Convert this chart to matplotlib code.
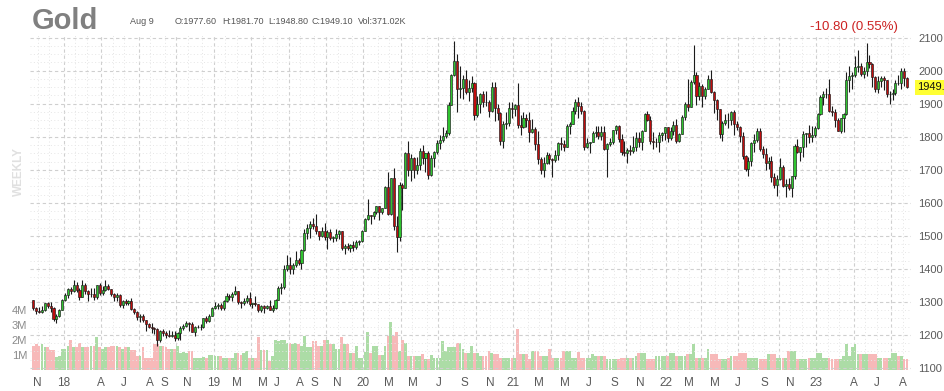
import matplotlib
matplotlib.use("Agg")
import matplotlib.pyplot as plt
import pandas as pd
import numpy as np

plt.rcParams['font.family'] = ['Liberation Sans', 'DejaVu Sans']

# ---------------- data (weekly) ----------------
first_week_end = '2017-10-20'

open_2017 = [1305, 1281, 1272, 1270, 1275, 1296, 1288, 1282, 1248, 1257, 1276]
high_2017 = [1307, 1285, 1285, 1289, 1297, 1299, 1300, 1284, 1262, 1278, 1309]
low_2017 = [1276, 1263, 1266, 1266, 1272, 1281, 1271, 1243, 1237, 1255, 1275]
close_2017 = [1281, 1272, 1270, 1275, 1296, 1288, 1282, 1248, 1257, 1276, 1305]
vol_2017 = [1.6, 1.7, 1.6, 1.7, 1.5, 1.5, 1.3, 1.3, 0.85, 0.9, 1.4]

open_2018 = [1305, 1322, 1338, 1333, 1352, 1337, 1316, 1352, 1332, 1323, 1323, 1314, 1350, 1327, 1336, 1349, 1338, 1323, 1316, 1320, 1292, 1304, 1297, 1302, 1279, 1271, 1254, 1256, 1244, 1232, 1225, 1220, 1219, 1184, 1213, 1206, 1201, 1198, 1201, 1192, 1207, 1222, 1228, 1236, 1233, 1210, 1223, 1223, 1223, 1252, 1241, 1258]
high_2018 = [1326, 1341, 1345, 1366, 1361, 1341, 1365, 1357, 1337, 1341, 1341, 1352, 1357, 1347, 1366, 1354, 1340, 1328, 1327, 1325, 1307, 1310, 1307, 1313, 1282, 1272, 1264, 1262, 1246, 1236, 1237, 1223, 1220, 1215, 1217, 1211, 1215, 1213, 1213, 1209, 1226, 1233, 1243, 1240, 1239, 1226, 1230, 1232, 1252, 1256, 1262, 1285]
low_2018 = [1302, 1312, 1323, 1330, 1331, 1306, 1316, 1324, 1303, 1314, 1307, 1310, 1322, 1322, 1333, 1335, 1318, 1302, 1304, 1285, 1282, 1292, 1291, 1276, 1262, 1246, 1238, 1238, 1211, 1222, 1207, 1203, 1167, 1178, 1197, 1191, 1193, 1194, 1182, 1185, 1185, 1216, 1225, 1211, 1209, 1196, 1220, 1214, 1221, 1237, 1240, 1257]
close_2018 = [1322, 1338, 1333, 1352, 1337, 1316, 1352, 1332, 1323, 1323, 1314, 1350, 1327, 1336, 1349, 1338, 1323, 1316, 1320, 1292, 1304, 1297, 1302, 1279, 1271, 1254, 1256, 1244, 1232, 1225, 1220, 1219, 1184, 1213, 1206, 1201, 1198, 1201, 1192, 1207, 1222, 1228, 1236, 1233, 1210, 1223, 1223, 1223, 1252, 1241, 1258, 1283]
vol_2018 = [1.4, 1.6, 2.0, 1.5, 1.5, 1.8, 1.5, 1.5, 1.5, 1.6, 1.6, 2.2, 1.5, 1.4, 1.5, 1.5, 1.6, 1.6, 1.6, 1.5, 1.4, 1.5, 1.5, 1.3, 1.3, 0.9, 0.9, 1.5, 0.8, 0.8, 0.8, 1.7, 1.7, 1.6, 1.6, 1.5, 1.4, 1.4, 1.4, 1.6, 1.15, 1.2, 1.1, 1.25, 1.25, 0.8, 0.8, 0.8, 0.85, 0.8, 1.0, 1.0]

open_2019 = [1283, 1287, 1292, 1282, 1303, 1319, 1316, 1323, 1332, 1299, 1298, 1303, 1313, 1295, 1295, 1294, 1276, 1288, 1281, 1287, 1276, 1283, 1306, 1341, 1344, 1400, 1413, 1400, 1413, 1426, 1419, 1457, 1509, 1524, 1537, 1529, 1515, 1499, 1516, 1497, 1512, 1494, 1494, 1505, 1515, 1464, 1468, 1463, 1473, 1465, 1481, 1483]
high_2019 = [1299, 1298, 1298, 1305, 1326, 1323, 1330, 1349, 1334, 1303, 1312, 1322, 1329, 1298, 1319, 1295, 1292, 1292, 1291, 1305, 1291, 1310, 1348, 1358, 1412, 1442, 1437, 1419, 1453, 1433, 1460, 1520, 1535, 1546, 1555, 1566, 1516, 1527, 1540, 1518, 1521, 1501, 1520, 1519, 1516, 1476, 1477, 1475, 1485, 1486, 1488, 1519]
low_2019 = [1280, 1279, 1276, 1277, 1300, 1305, 1302, 1322, 1294, 1281, 1290, 1298, 1287, 1283, 1288, 1271, 1270, 1267, 1279, 1276, 1270, 1280, 1306, 1323, 1340, 1395, 1384, 1386, 1405, 1413, 1400, 1455, 1491, 1494, 1520, 1507, 1486, 1496, 1487, 1460, 1488, 1481, 1484, 1490, 1456, 1446, 1457, 1452, 1455, 1461, 1472, 1481]
close_2019 = [1287, 1292, 1282, 1303, 1319, 1316, 1323, 1332, 1299, 1298, 1303, 1313, 1295, 1295, 1294, 1276, 1288, 1281, 1287, 1276, 1283, 1306, 1341, 1344, 1400, 1413, 1400, 1413, 1426, 1419, 1457, 1509, 1524, 1537, 1529, 1515, 1499, 1516, 1497, 1512, 1494, 1494, 1505, 1515, 1464, 1468, 1463, 1473, 1465, 1481, 1483, 1515]
vol_2019 = [0.9, 0.9, 0.9, 0.8, 0.8, 0.8, 0.8, 1.1, 1.1, 1.0, 1.1, 1.25, 0.8, 0.8, 0.8, 2.2, 1.35, 1.3, 1.35, 0.6, 0.9, 2.0, 1.9, 2.0, 2.0, 1.8, 1.8, 1.7, 1.8, 1.7, 1.6, 2.25, 1.5, 1.5, 1.9, 1.9, 1.6, 1.6, 2.0, 2.0, 1.7, 1.7, 1.4, 1.4, 2.2, 1.7, 1.7, 1.1, 1.1, 1.6, 0.8, 0.8]

open_2020 = [1515, 1552, 1562, 1560, 1572, 1589, 1573, 1584, 1649, 1566, 1674, 1530, 1498, 1654, 1645, 1752, 1698, 1735, 1700, 1713, 1756, 1735, 1751, 1683, 1737, 1753, 1780, 1790, 1801, 1810, 1897, 1986, 2028, 1944, 1947, 1975, 1934, 1948, 1962, 1866, 1900, 1930, 1906, 1905, 1879, 1951, 1887, 1871, 1788, 1840, 1843, 1888, 1883]
high_2020 = [1553, 1611, 1564, 1576, 1591, 1591, 1585, 1651, 1692, 1676, 1704, 1560, 1664, 1660, 1753, 1788, 1747, 1738, 1738, 1765, 1775, 1751, 1756, 1744, 1756, 1789, 1804, 1829, 1820, 1904, 1990, 2089, 2049, 2015, 1986, 2001, 1973, 1985, 1966, 1923, 1933, 1938, 1939, 1912, 1965, 1966, 1900, 1876, 1848, 1875, 1904, 1906, 1900]
low_2020 = [1514, 1549, 1536, 1550, 1565, 1549, 1566, 1583, 1563, 1563, 1517, 1451, 1484, 1577, 1645, 1680, 1667, 1676, 1688, 1700, 1718, 1693, 1671, 1680, 1709, 1747, 1762, 1784, 1795, 1806, 1897, 1983, 1874, 1916, 1913, 1928, 1907, 1936, 1851, 1861, 1873, 1891, 1893, 1860, 1876, 1849, 1851, 1775, 1765, 1823, 1833, 1858, 1862]
close_2020 = [1552, 1562, 1560, 1572, 1589, 1573, 1584, 1649, 1566, 1674, 1530, 1498, 1654, 1645, 1752, 1698, 1735, 1700, 1713, 1756, 1735, 1751, 1683, 1737, 1753, 1780, 1790, 1801, 1810, 1897, 1986, 2028, 1944, 1947, 1975, 1934, 1948, 1962, 1866, 1900, 1930, 1906, 1905, 1879, 1951, 1887, 1871, 1788, 1840, 1843, 1888, 1883, 1895]
vol_2020 = [1.2, 2.5, 1.15, 1.6, 1.6, 1.0, 1.0, 1.6, 2.25, 3.2, 2.25, 2.5, 1.25, 2.0, 1.8, 0.95, 0.95, 0.95, 0.9, 0.9, 1.05, 0.7, 0.7, 1.0, 0.8, 0.8, 0.8, 1.9, 1.25, 1.5, 1.5, 1.5, 1.8, 1.8, 1.4, 1.15, 1.15, 1.6, 1.15, 1.15, 0.95, 0.95, 0.95, 1.25, 1.1, 1.05, 1.05, 0.8, 0.8, 0.8, 0.8, 0.8, 0.8]

open_2021 = [1895, 1835, 1829, 1856, 1850, 1814, 1823, 1777, 1734, 1698, 1720, 1745, 1733, 1729, 1744, 1780, 1777, 1768, 1832, 1838, 1877, 1905, 1892, 1878, 1769, 1781, 1784, 1811, 1815, 1802, 1815, 1763, 1779, 1784, 1819, 1834, 1792, 1754, 1752, 1760, 1758, 1768, 1796, 1784, 1818, 1868, 1852, 1788, 1784, 1784, 1804, 1811]
high_2021 = [1962, 1866, 1875, 1870, 1875, 1855, 1829, 1816, 1739, 1740, 1755, 1750, 1736, 1759, 1784, 1798, 1790, 1838, 1846, 1891, 1913, 1920, 1904, 1880, 1795, 1785, 1818, 1834, 1834, 1833, 1834, 1780, 1796, 1821, 1836, 1836, 1809, 1788, 1765, 1774, 1801, 1815, 1814, 1819, 1871, 1877, 1862, 1815, 1795, 1815, 1814, 1831]
low_2021 = [1828, 1805, 1827, 1831, 1785, 1812, 1760, 1717, 1687, 1677, 1718, 1719, 1678, 1723, 1729, 1760, 1756, 1768, 1808, 1838, 1870, 1856, 1869, 1761, 1767, 1750, 1783, 1799, 1794, 1791, 1759, 1678, 1772, 1778, 1807, 1783, 1745, 1741, 1721, 1746, 1750, 1758, 1770, 1760, 1816, 1847, 1778, 1762, 1769, 1753, 1786, 1790]
close_2021 = [1835, 1829, 1856, 1850, 1814, 1823, 1777, 1734, 1698, 1720, 1745, 1733, 1729, 1744, 1780, 1777, 1768, 1832, 1838, 1877, 1905, 1892, 1878, 1769, 1781, 1784, 1811, 1815, 1802, 1815, 1763, 1779, 1784, 1819, 1834, 1792, 1754, 1752, 1760, 1758, 1768, 1796, 1784, 1818, 1868, 1852, 1788, 1784, 1784, 1804, 1811, 1829]
vol_2021 = [2.75, 1.05, 1.05, 1.05, 0.7, 1.25, 1.25, 1.25, 0.9, 0.9, 0.9, 1.4, 0.8, 0.8, 0.8, 0.8, 1.25, 1.25, 1.25, 0.8, 0.8, 1.2, 0.8, 0.8, 0.8, 0.8, 1.05, 0.9, 0.9, 0.9, 0.9, 0.7, 0.7, 0.7, 0.75, 0.75, 0.8, 0.8, 0.8, 0.8, 0.8, 0.9, 1.15, 1.15, 1.15, 0.7, 0.7, 0.7, 0.9, 0.9, 0.9, 0.9]

open_2022 = [1829, 1797, 1817, 1835, 1786, 1808, 1860, 1900, 1890, 1967, 1986, 1922, 1955, 1924, 1946, 1975, 1934, 1911, 1883, 1808, 1842, 1851, 1850, 1875, 1840, 1830, 1801, 1742, 1703, 1728, 1781, 1791, 1816, 1762, 1749, 1722, 1728, 1678, 1655, 1672, 1709, 1650, 1656, 1645, 1681, 1771, 1754, 1768, 1809, 1810, 1800, 1804]
high_2022 = [1830, 1830, 1848, 1855, 1812, 1866, 1905, 1976, 1972, 2079, 1995, 1966, 1960, 1950, 1988, 2003, 1937, 1915, 1885, 1849, 1870, 1873, 1878, 1880, 1847, 1833, 1813, 1745, 1738, 1784, 1808, 1826, 1825, 1772, 1766, 1738, 1741, 1691, 1684, 1736, 1714, 1672, 1675, 1682, 1779, 1793, 1769, 1818, 1812, 1836, 1834, 1833]
low_2022 = [1783, 1791, 1805, 1780, 1785, 1807, 1852, 1878, 1889, 1960, 1895, 1910, 1890, 1915, 1944, 1932, 1872, 1851, 1797, 1787, 1836, 1828, 1836, 1805, 1820, 1784, 1733, 1695, 1681, 1711, 1754, 1783, 1757, 1736, 1700, 1703, 1663, 1645, 1622, 1669, 1649, 1618, 1640, 1617, 1673, 1750, 1726, 1740, 1769, 1781, 1784, 1800]
close_2022 = [1797, 1817, 1835, 1786, 1808, 1860, 1900, 1890, 1967, 1986, 1922, 1955, 1924, 1946, 1975, 1934, 1911, 1883, 1808, 1842, 1851, 1850, 1875, 1840, 1830, 1801, 1742, 1703, 1728, 1781, 1791, 1816, 1762, 1749, 1722, 1728, 1678, 1655, 1672, 1709, 1650, 1656, 1645, 1681, 1771, 1754, 1768, 1809, 1810, 1800, 1804, 1826]
vol_2022 = [0.9, 1.1, 1.1, 0.9, 0.9, 0.9, 0.9, 1.05, 1.05, 1.7, 0.8, 0.8, 0.8, 0.8, 1.4, 1.05, 1.05, 1.05, 0.7, 0.7, 0.7, 0.8, 0.9, 0.9, 0.9, 1.1, 1.1, 1.1, 0.8, 0.8, 0.8, 0.8, 0.7, 0.7, 0.7, 1.05, 1.05, 1.05, 0.8, 0.8, 0.8, 0.8, 1.25, 1.25, 1.25, 0.7, 0.7, 0.7, 0.7, 0.8, 0.8, 0.8]

open_2023 = [1826, 1869, 1921, 1928, 1929, 1877, 1874, 1850, 1817, 1856, 1868, 1973, 1983, 1986, 2011, 2015, 1990, 2000, 2025, 2019, 1981, 1944, 1969, 1977, 1971, 1929, 1929, 1932, 1964, 1962, 2000, 1977.6]
high_2023 = [1872, 1925, 1937, 1949, 1975, 1894, 1885, 1856, 1857, 1871, 1997, 2014, 1995, 2045, 2064, 2023, 2012, 2085, 2048, 2022, 1985, 1985, 1984, 1985, 1972, 1938, 1944, 1973, 1987, 2009, 2007, 1981.7]
low_2023 = [1824, 1866, 1897, 1917, 1876, 1863, 1830, 1816, 1810, 1813, 1866, 1936, 1945, 1980, 1995, 1983, 1978, 1983, 2008, 1952, 1936, 1932, 1950, 1941, 1920, 1900, 1912, 1925, 1956, 1946, 1954, 1948.8]
close_2023 = [1869, 1921, 1928, 1929, 1877, 1874, 1850, 1817, 1856, 1868, 1973, 1983, 1986, 2011, 2015, 1990, 2000, 2025, 2019, 1981, 1944, 1969, 1977, 1971, 1929, 1929, 1932, 1964, 1962, 2000, 1978, 1949.1]
vol_2023 = [1.15, 1.15, 0.8, 0.8, 0.8, 0.7, 0.7, 0.7, 0.7, 0.9, 1.7, 0.9, 1.5, 1.7, 1.05, 1.05, 1.05, 1.05, 1.05, 1.05, 1.05, 0.8, 0.8, 0.8, 0.8, 0.8, 1.1, 1.1, 0.9, 0.9, 0.7, 0.7]

price_ticks = [1100, 1200, 1300, 1400, 1500, 1600, 1700, 1800, 1900, 2000, 2100]
volume_ticks = [1, 2, 3, 4]
volume_tick_labels = ['1M', '2M', '3M', '4M']
# (year, month, label)
month_labels = [(2017, 11, 'N'), (2018, 1, '18'), (2018, 4, 'A'), (2018, 6, 'J'), (2018, 8, 'A'),
                (2018, 9, 'S'), (2018, 11, 'N'), (2019, 1, '19'), (2019, 3, 'M'), (2019, 5, 'M'),
                (2019, 6, 'J'), (2019, 8, 'A'), (2019, 9, 'S'), (2019, 11, 'N'), (2020, 1, '20'),
                (2020, 3, 'M'), (2020, 5, 'M'), (2020, 7, 'J'), (2020, 9, 'S'), (2020, 11, 'N'),
                (2021, 1, '21'), (2021, 3, 'M'), (2021, 5, 'M'), (2021, 7, 'J'), (2021, 9, 'S'),
                (2021, 11, 'N'), (2022, 1, '22'), (2022, 3, 'M'), (2022, 5, 'M'), (2022, 7, 'J'),
                (2022, 9, 'S'), (2022, 11, 'N'), (2023, 1, '23'), (2023, 4, 'A'), (2023, 6, 'J'),
                (2023, 8, 'A')]

title = 'Gold'
bar_date = 'Aug 9'
ohlc_texts = ['O:1977.60', 'H:1981.70', 'L:1948.80', 'C:1949.10']
vol_text = 'Vol:371.02K'
change_text = '-10.80 (0.55%)'
last_price_text = '1949.10'

# ---------------- assemble ----------------
opens = np.array(open_2017 + open_2018 + open_2019 + open_2020 + open_2021 + open_2022 + open_2023, float)
highs = np.array(high_2017 + high_2018 + high_2019 + high_2020 + high_2021 + high_2022 + high_2023, float)
lows = np.array(low_2017 + low_2018 + low_2019 + low_2020 + low_2021 + low_2022 + low_2023, float)
closes = np.array(close_2017 + close_2018 + close_2019 + close_2020 + close_2021 + close_2022 + close_2023, float)
volumes = np.array(vol_2017 + vol_2018 + vol_2019 + vol_2020 + vol_2021 + vol_2022 + vol_2023, float)
n = len(closes)
week_end = pd.date_range(first_week_end, periods=n, freq='7D')
x = np.arange(n)
up = closes >= opens

GREEN = '#2fc42f'
RED = '#c00d0d'
VGREEN = '#acdca6'
VRED = '#f7b9b9'
EDGE = '#1b1b1b'

fig = plt.figure(figsize=(9.44, 3.91), dpi=100)
rect = [30 / 944, 21 / 391, 881 / 944, 335 / 391]
axv = fig.add_axes(rect)          # volume (drawn first)
ax = axv.twinx()                  # price
axv.set_zorder(0)
ax.set_zorder(1)
ax.patch.set_visible(False)

xlim = (-1.16, 304.4)
axv.set_xlim(*xlim)
ax.set_xlim(*xlim)
ax.set_ylim(1094, 2108)
axv.set_ylim(0, 22.33)

def month_pos(y, m):
    idx = np.where((week_end.year == y) & (week_end.month == m))[0]
    return idx[0] - 0.5 if len(idx) else None

# vertical grid
per = pd.period_range('2017-11', '2023-08', freq='M')
for p in per:
    pos = month_pos(p.year, p.month)
    if pos is None:
        continue
    if p.month in (1, 4, 7, 10):
        axv.axvline(pos, color='#cfcfcf', lw=0.8, ls=(0, (3, 2.5)), zorder=0)
    else:
        axv.axvline(pos, color='#e4e4e4', lw=0.7, ls=(0, (1, 2.5)), zorder=0)

# horizontal grid
for p in range(1100, 2101, 25):
    if p % 100 == 0:
        ax.axhline(p, color='#cfcfcf', lw=0.8, ls=(0, (3, 2.5)), zorder=0)
    else:
        ax.axhline(p, color='#e6e6e6', lw=0.7, ls=(0, (1, 2.5)), zorder=0)

# volume bars
axv.bar(x, volumes, width=0.95, color=np.where(up, VGREEN, VRED), linewidth=0, zorder=1)

# candles
ax.vlines(x, lows, highs, color=EDGE, lw=0.8, zorder=2)
body_low = np.minimum(opens, closes)
body_h = np.maximum(np.abs(closes - opens), 1.5)
ax.bar(x, body_h, bottom=body_low, width=0.72, color=np.where(up, GREEN, RED),
       edgecolor=EDGE, linewidth=0.45, zorder=3)

for a in (ax, axv):
    for s in a.spines.values():
        s.set_visible(False)

ax.set_yticks(price_ticks)
ax.set_yticklabels([str(t) for t in price_ticks])
ax.yaxis.tick_right()
ax.tick_params(axis='y', length=0, pad=5, labelsize=8, labelcolor='#5a5a5a')

axv.set_yticks(volume_ticks)
axv.set_yticklabels(volume_tick_labels)
axv.yaxis.tick_left()
axv.tick_params(axis='y', length=0, pad=2, labelsize=8, labelcolor='#8a8a8a')

lab_pos = [month_pos(y, m) for (y, m, t) in month_labels]
axv.set_xticks(lab_pos)
axv.set_xticklabels([t for (y, m, t) in month_labels])
axv.tick_params(axis='x', length=0, pad=5, labelsize=8.5, labelcolor='#5a5a5a')
ax.tick_params(axis='x', length=0, labelbottom=False)

# header texts
fig.text(32 / 944, 1 - 29 / 391, title, fontsize=21, fontweight='bold', color='#808080', va='baseline')
fig.text(130 / 944, 1 - 24 / 391, bar_date, fontsize=6.5, color='#555555', va='baseline')
for xpix, t in zip([175, 222, 268, 312], ohlc_texts):
    fig.text(xpix / 944, 1 - 24 / 391, t, fontsize=6.5, color='#555555', va='baseline')
fig.text(358 / 944, 1 - 24 / 391, vol_text, fontsize=6.5, color='#555555', va='baseline')
fig.text(898 / 944, 1 - 30 / 391, change_text, fontsize=9.5, color='#cc2222', va='baseline', ha='right')
fig.text(19 / 944, 1 - 172 / 391, 'WEEKLY', fontsize=8.5, fontweight='bold', color='#e0e0e0',
         rotation=90, ha='center', va='center')

# last price tag
ax.text(1.0 + 6 / 881, closes[-1], last_price_text, transform=ax.get_yaxis_transform(),
        fontsize=8, color='#111111', va='center', ha='left',
        bbox=dict(boxstyle='square,pad=0.2', fc='#ffff33', ec='none'))

fig.savefig('out.png', dpi=100)
